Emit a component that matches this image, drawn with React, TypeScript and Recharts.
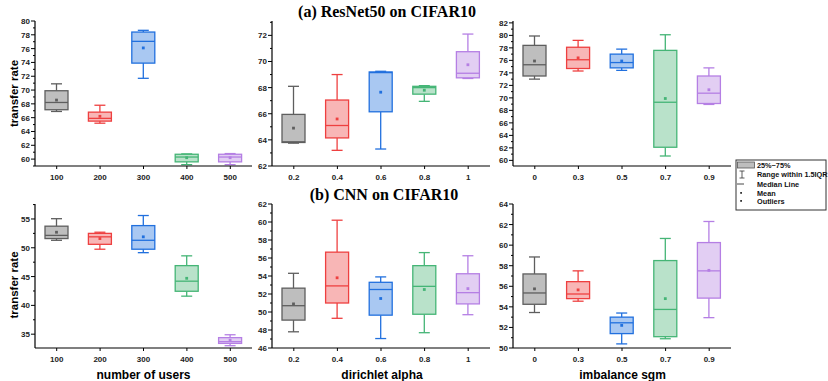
import React from "react";
import { ComposedChart, Bar, XAxis, YAxis } from "recharts";

// each row: [whisker low, q1, median, q3, whisker high, mean]
const usersCats = ["100", "200", "300", "400", "500"];
const alphaCats = ["0.2", "0.4", "0.6", "0.8", "1"];
const sgmCats = ["0", "0.3", "0.5", "0.7", "0.9"];

const resnetUsers = [
  [66.9, 67.15, 68.2, 69.9, 70.9, 68.55],
  [65.2, 65.5, 65.9, 66.8, 67.8, 66.2],
  [71.7, 73.9, 77.05, 78.4, 78.65, 76.1],
  [59.2, 59.6, 60.3, 60.7, 60.75, 60.2],
  [59.2, 59.6, 60.3, 60.7, 60.8, 60.2],
];
const resnetAlpha = [
  [63.75, 63.8, 63.85, 65.95, 68.1, 64.9],
  [63.2, 64.15, 65.1, 67.05, 69.0, 65.6],
  [63.3, 66.15, 69.15, 69.2, 69.25, 67.65],
  [66.95, 67.5, 68.0, 68.1, 68.15, 67.8],
  [68.7, 68.75, 69.1, 70.75, 72.1, 69.75],
];
const resnetSgm = [
  [73.0, 73.5, 75.3, 78.4, 79.9, 75.9],
  [74.3, 74.7, 76.1, 78.1, 79.2, 76.4],
  [74.4, 74.8, 75.65, 77.0, 77.8, 75.9],
  [60.7, 62.1, 69.3, 77.6, 80.1, 69.9],
  [68.95, 69.1, 70.75, 73.5, 74.8, 71.3],
];
const cnnUsers = [
  [51.3, 51.6, 52.15, 53.75, 55.05, 52.7],
  [49.75, 50.6, 51.9, 52.5, 52.7, 51.6],
  [49.15, 49.75, 51.3, 53.85, 55.6, 51.9],
  [41.6, 42.45, 44.2, 46.9, 48.6, 44.7],
  [33.0, 33.4, 33.7, 34.4, 34.9, 33.95],
];
const cnnAlpha = [
  [47.8, 49.1, 50.7, 52.65, 54.3, 50.9],
  [49.3, 51.0, 52.9, 56.65, 60.2, 53.8],
  [47.05, 49.65, 52.5, 53.3, 53.9, 51.5],
  [47.7, 49.75, 52.85, 55.15, 56.6, 52.5],
  [49.7, 50.9, 52.15, 54.25, 56.25, 52.6],
];
const cnnSgm = [
  [53.45, 54.25, 55.35, 57.2, 58.85, 55.75],
  [54.55, 54.8, 55.25, 56.45, 57.5, 55.65],
  [50.4, 51.4, 52.45, 53.0, 53.4, 52.2],
  [50.9, 51.1, 53.75, 58.5, 60.65, 54.8],
  [52.95, 54.85, 57.5, 60.25, 62.3, 57.55],
];

const ticksUsersA = [60, 62, 64, 66, 68, 70, 72, 74, 76, 78, 80];
const ticksAlphaA = [62, 64, 66, 68, 70, 72];
const ticksSgmA = [60, 62, 64, 66, 68, 70, 72, 74, 76, 78, 80, 82];
const ticksUsersB = [35, 40, 45, 50, 55];
const ticksAlphaB = [46, 48, 50, 52, 54, 56, 58, 60, 62];
const ticksSgmB = [50, 52, 54, 56, 58, 60, 62, 64];

const palette = [
  { fill: "#bebebe", stroke: "#5e5e5e" },
  { fill: "#f8b6b6", stroke: "#ee4040" },
  { fill: "#a9c8f2", stroke: "#2170de" },
  { fill: "#b9e2ca", stroke: "#45b576" },
  { fill: "#e2cef3", stroke: "#b57fe4" },
];

const SANS = "'Liberation Sans', Arial, sans-serif";
const SERIF = "'Liberation Serif', 'Times New Roman', serif";

function BoxShape(props: any) {
  const { x, y, width, height, payload, index } = props;
  const c = palette[index % palette.length];
  const top = Math.min(y, y + height);
  const bot = Math.max(y, y + height);
  const { lo, hi, q1, q3, med, mean } = payload;
  const py = (v: number) => bot - ((bot - top) * (v - lo)) / (hi - lo);
  const cx = x + width / 2;
  const cap = 5.5;
  const sw = 1.3;
  return (
    <g>
      <line x1={cx} x2={cx} y1={py(hi)} y2={py(q3)} stroke={c.stroke} strokeWidth={sw} />
      <line x1={cx} x2={cx} y1={py(q1)} y2={py(lo)} stroke={c.stroke} strokeWidth={sw} />
      <line x1={cx - cap} x2={cx + cap} y1={py(hi)} y2={py(hi)} stroke={c.stroke} strokeWidth={sw} />
      <line x1={cx - cap} x2={cx + cap} y1={py(lo)} y2={py(lo)} stroke={c.stroke} strokeWidth={sw} />
      <rect
        x={x}
        y={py(q3)}
        width={width}
        height={Math.max(py(q1) - py(q3), 0.5)}
        fill={c.fill}
        stroke={c.stroke}
        strokeWidth={sw}
      />
      <line x1={x} x2={x + width} y1={py(med)} y2={py(med)} stroke={c.stroke} strokeWidth={sw} />
      <rect x={cx - 1.4} y={py(mean) - 1.4} width={2.8} height={2.8} fill={c.stroke} />
    </g>
  );
}

function makeYTick(major: number[]) {
  return (props: any) => {
    const { x, y, payload } = props;
    const isMajor = major.includes(payload.value);
    return (
      <g>
        <line x1={x} x2={x - (isMajor ? 4 : 2)} y1={y} y2={y} stroke="#000" strokeWidth={1} />
        {isMajor && (
          <text x={x - 5} y={y + 3} textAnchor="end" fontSize={8} fontWeight="bold" fontFamily={SANS} fill="#222">
            {payload.value}
          </text>
        )}
      </g>
    );
  };
}

function XTick(props: any) {
  const { x, y, payload } = props;
  return (
    <g>
      <line x1={x} x2={x} y1={y} y2={y + 3} stroke="#000" strokeWidth={1} />
      <text x={x} y={y + 13.5} textAnchor="middle" fontSize={8} fontWeight="bold" fontFamily={SANS} fill="#222">
        {payload.value}
      </text>
    </g>
  );
}

interface PanelProps {
  cats: string[];
  rows: number[][];
  domain: [number, number];
  major: number[];
  minorStep: number;
  plotLeft: number;
  plotRight: number;
  plotTop: number;
  plotBottom: number;
}

const YW = 30;
const XH = 20;
const MT = 8;

function Panel({ cats, rows, domain, major, minorStep, plotLeft, plotRight, plotTop, plotBottom }: PanelProps) {
  const data = cats.map((cat, i) => {
    const [lo, q1, med, q3, hi, mean] = rows[i];
    return { cat, lo, q1, med, q3, hi, mean, range: [lo, hi] };
  });
  const all: number[] = [];
  major.forEach((m) => {
    all.push(m);
    all.push(m + minorStep);
    all.push(m - minorStep);
  });
  const ticks = Array.from(new Set(all))
    .filter((t) => t >= domain[0] && t <= domain[1])
    .sort((a, b) => a - b);
  const width = plotRight - plotLeft + YW + 2;
  const height = plotBottom - plotTop + MT + XH;
  return (
    <div style={{ position: "absolute", left: plotLeft - YW, top: plotTop - MT }}>
      <ComposedChart width={width} height={height} data={data} margin={{ top: MT, right: 2, bottom: 0, left: 0 }}>
        <XAxis
          dataKey="cat"
          height={XH}
          tickSize={0}
          tickMargin={0}
          tickLine={false}
          axisLine={{ stroke: "#000", strokeWidth: 1.2 }}
          tick={XTick}
          interval={0}
        />
        <XAxis
          xAxisId="top"
          dataKey="cat"
          orientation="top"
          height={0}
          tick={false}
          tickLine={false}
          axisLine={{ stroke: "#000", strokeWidth: 1.2 }}
        />
        <YAxis
          type="number"
          domain={domain}
          ticks={ticks}
          width={YW}
          tickSize={0}
          tickMargin={0}
          tickLine={false}
          interval={0}
          axisLine={{ stroke: "#000", strokeWidth: 1.2 }}
          tick={makeYTick(major)}
        />
        <YAxis
          yAxisId="right"
          orientation="right"
          width={0}
          tick={false}
          tickLine={false}
          axisLine={{ stroke: "#000", strokeWidth: 1.2 }}
        />
        <Bar dataKey="range" barSize={23} isAnimationActive={false} shape={BoxShape} />
      </ComposedChart>
    </div>
  );
}

const COLS = [
  [35, 252],
  [272, 490],
  [513, 731],
];
const ROWS = [
  [21, 166],
  [204, 348],
];

function Legend() {
  const lx = 736;
  const ly = 160;
  const tx = lx + 21;
  const fs = 7.3;
  const t = (y: number, s: string) => (
    <text x={tx} y={y + 2.6} fontSize={fs} fontWeight="bold" fontFamily={SANS} fill="#111">
      {s}
    </text>
  );
  return (
    <g>
      <rect x={lx} y={ly} width={90} height={50} fill="#fff" stroke="#333" strokeWidth={1} />
      <rect x={lx + 1.5} y={ly + 2} width={17} height={6} fill="#bebebe" stroke="#555" strokeWidth={0.8} />
      {t(ly + 5, "25%~75%")}
      <line x1={lx + 6} x2={lx + 6} y1={ly + 11} y2={ly + 18} stroke="#333" strokeWidth={0.8} />
      <line x1={lx + 3.5} x2={lx + 8.5} y1={ly + 11} y2={ly + 11} stroke="#333" strokeWidth={0.8} />
      <line x1={lx + 3.5} x2={lx + 8.5} y1={ly + 18} y2={ly + 18} stroke="#333" strokeWidth={0.8} />
      {t(ly + 14.3, "Range within 1.5IQR")}
      <line x1={lx + 1} x2={lx + 8} y1={ly + 24} y2={ly + 24} stroke="#333" strokeWidth={0.9} />
      {t(ly + 24, "Median Line")}
      <rect x={lx + 4.2} y={ly + 32} width={1.8} height={1.8} fill="#333" />
      {t(ly + 33, "Mean")}
      <rect x={lx + 4.2} y={ly + 40} width={1.8} height={1.8} fill="#333" />
      {t(ly + 41, "Outliers")}
    </g>
  );
}

export default function App() {
  const panels = [
    { cats: usersCats, rows: resnetUsers, domain: [59, 80] as [number, number], major: ticksUsersA, minorStep: 1, c: 0, r: 0 },
    { cats: alphaCats, rows: resnetAlpha, domain: [62, 73.1] as [number, number], major: ticksAlphaA, minorStep: 1, c: 1, r: 0 },
    { cats: sgmCats, rows: resnetSgm, domain: [59.1, 82.3] as [number, number], major: ticksSgmA, minorStep: 1, c: 2, r: 0 },
    { cats: usersCats, rows: cnnUsers, domain: [32.6, 57.6] as [number, number], major: ticksUsersB, minorStep: 2.5, c: 0, r: 1 },
    { cats: alphaCats, rows: cnnAlpha, domain: [46, 62] as [number, number], major: ticksAlphaB, minorStep: 1, c: 1, r: 1 },
    { cats: sgmCats, rows: cnnSgm, domain: [50, 64] as [number, number], major: ticksSgmB, minorStep: 1, c: 2, r: 1 },
  ];
  return (
    <div style={{ position: "absolute", left: 0, top: 0, width: 828, height: 381, background: "#fff", overflow: "hidden" }}>
      {panels.map((p, i) => (
        <Panel
          key={i}
          cats={p.cats}
          rows={p.rows}
          domain={p.domain}
          major={p.major}
          minorStep={p.minorStep}
          plotLeft={COLS[p.c][0]}
          plotRight={COLS[p.c][1]}
          plotTop={ROWS[p.r][0]}
          plotBottom={ROWS[p.r][1]}
        />
      ))}
      <svg width={828} height={381} style={{ position: "absolute", left: 0, top: 0, pointerEvents: "none" }}>
        <text x={387} y={17} textAnchor="middle" fontSize={16} fontWeight="bold" fontFamily={SERIF} fill="#000">
          (a) ResNet50 on CIFAR10
        </text>
        <text x={384} y={200} textAnchor="middle" fontSize={16} fontWeight="bold" fontFamily={SERIF} fill="#000">
          (b) CNN on CIFAR10
        </text>
        <text transform="translate(17.5,93.5) rotate(-90)" textAnchor="middle" fontSize={11.5} fontWeight="bold" fontFamily={SANS} fill="#000">
          transfer rate
        </text>
        <text transform="translate(17.5,285) rotate(-90)" textAnchor="middle" fontSize={11.5} fontWeight="bold" fontFamily={SANS} fill="#000">
          transfer rate
        </text>
        <text x={143.5} y={379} textAnchor="middle" fontSize={12} fontWeight="bold" fontFamily={SANS} fill="#000">
          number of users
        </text>
        <text x={382} y={379} textAnchor="middle" fontSize={12} fontWeight="bold" fontFamily={SANS} fill="#000">
          dirichlet alpha
        </text>
        <text x={622.5} y={379} textAnchor="middle" fontSize={12} fontWeight="bold" fontFamily={SANS} fill="#000">
          imbalance sgm
        </text>
        <Legend />
      </svg>
    </div>
  );
}
